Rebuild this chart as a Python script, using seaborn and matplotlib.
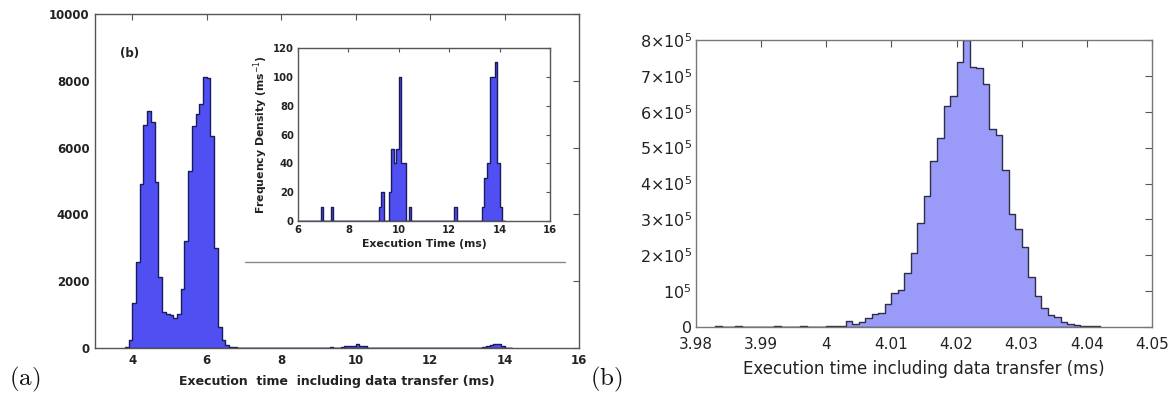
import numpy as np
import pandas as pd
import seaborn as sns
import matplotlib.pyplot as plt
from matplotlib.lines import Line2D

# Panel (a): main histogram, counts per 0.1 ms bin (bin centres)
main_centres = [3.85, 3.95, 4.05, 4.15, 4.25, 4.35, 4.45, 4.55, 4.65, 4.75,
                4.85, 4.95, 5.05, 5.15, 5.25, 5.35, 5.45, 5.55, 5.65, 5.75,
                5.85, 5.95, 6.05, 6.15, 6.25, 6.35, 6.45, 6.55, 6.65, 6.75,
                6.85, 6.95, 7.05, 7.35, 9.25, 9.35, 9.65, 9.75, 9.85, 9.95,
                10.05, 10.15, 10.25, 10.45, 12.25, 13.35, 13.45, 13.55, 13.65,
                13.75, 13.85, 13.95, 14.05]
main_counts = [20, 230, 1360, 2590, 4900, 6680, 7090, 6760, 4970, 2130,
               1080, 1030, 980, 910, 1010, 1780, 3190, 5290, 6640, 7020,
               7300, 8100, 8070, 6340, 3000, 630, 230, 80, 40, 20,
               10, 8, 5, 5, 10, 20, 30, 60, 50, 70,
               110, 60, 50, 10, 10, 15, 40, 60, 100,
               110, 120, 50, 15]

# Panel (a) inset: frequency density (ms^-1)
inset_centres = [6.95, 7.35, 9.25, 9.35, 9.65, 9.75, 9.85, 9.95, 10.05, 10.15,
                 10.25, 10.45, 12.25, 13.35, 13.45, 13.55, 13.65, 13.75, 13.85,
                 13.95, 14.05]
inset_density = [10, 10, 10, 20, 20, 50, 40, 50, 100, 40,
                 40, 10, 10, 10, 30, 40, 100, 100, 110,
                 40, 10]

# Panel (b): counts per 1 us bin, first bin starts at 3.983 ms
b_start = 3.983
b_counts = [1500, 800, 600, 1500, 700, 600, 1200, 800, 600, 1800,
            1000, 700, 600, 2500, 1200, 600, 1000, 2000, 1500, 3000,
            17000, 7500, 13000, 26000, 35000, 38000, 63000, 96000, 102000, 151000,
            205000, 290000, 365000, 462000, 527000, 615000, 644000, 739000, 800000, 726000,
            723000, 678000, 553000, 536000, 438000, 316000, 272000, 224000, 140000, 87000,
            54000, 34600, 28000, 14000, 7500, 5000, 3000, 2000, 1500]

sns.set_style("white")
plt.rcParams['mathtext.fontset'] = 'dejavusans'

fig = plt.figure(figsize=(11.75, 3.97), dpi=100)

main_df = pd.DataFrame({"t": main_centres, "n": main_counts})
inset_df = pd.DataFrame({"t": inset_centres, "n": inset_density})
b_edges = np.round(b_start + 0.001 * np.arange(len(b_counts) + 1), 4)
b_df = pd.DataFrame({"t": b_edges[:-1] + 0.0005, "n": b_counts})

# ---- left panel ----
ax1 = fig.add_axes([0.0809, 0.1234, 0.4119, 0.8413])
edges = list(np.round(np.arange(3.8, 14.25, 0.1), 2))
sns.histplot(data=main_df, x="t", weights="n", bins=edges, element="step",
             fill=True, color="#4f4ff2", edgecolor="#1c1c5c", alpha=1,
             linewidth=1, ax=ax1)
ax1.set_xlim(3, 16)
ax1.set_ylim(0, 10000)
ax1.set_xticks([4, 6, 8, 10, 12, 14, 16])
ax1.set_yticks([0, 2000, 4000, 6000, 8000, 10000])
ax1.set_ylabel("")
ax1.set_xlabel("Execution  time  including data transfer (ms)",
               fontsize=9, fontweight="bold", color="#222222", labelpad=6)
ax1.tick_params(direction="in", top=True, right=True, length=4, width=0.8,
                labelsize=8.5, color="#555555", labelcolor="#222222", pad=4)
for lab in ax1.get_xticklabels() + ax1.get_yticklabels():
    lab.set_fontweight("bold")
for s in ax1.spines.values():
    s.set_color("#555555")
    s.set_linewidth(1)
ax1.text(3.68, 8700, "(b)", fontsize=8.5, fontweight="bold", color="#222222")

# ---- inset ----
ax_in = fig.add_axes([0.2536, 0.4433, 0.2145, 0.4358])
sns.histplot(data=inset_df, x="t", weights="n", bins=edges, element="step",
             fill=True, color="#4f4ff2", edgecolor="#1c1c5c", alpha=1,
             linewidth=1, ax=ax_in)
ax_in.set_xlim(6, 16)
ax_in.set_ylim(0, 120)
ax_in.set_xticks([6, 8, 10, 12, 14, 16])
ax_in.set_yticks([0, 20, 40, 60, 80, 100, 120])
ax_in.set_xlabel("Execution Time (ms)", fontsize=7.8, fontweight="bold",
                 color="#222222", labelpad=3)
ax_in.set_ylabel("Frequency Density (ms$^{-1}$)", fontsize=7.8,
                 fontweight="bold", color="#222222", labelpad=2)
ax_in.tick_params(direction="in", top=True, right=True, length=3, width=0.8,
                  labelsize=7.2, color="#555555", labelcolor="#222222", pad=3)
for lab in ax_in.get_xticklabels() + ax_in.get_yticklabels():
    lab.set_fontweight("bold")
for s in ax_in.spines.values():
    s.set_color("#555555")
    s.set_linewidth(1)

fig.add_artist(Line2D([0.2085, 0.4809], [0.340, 0.340], transform=fig.transFigure,
                      color="#888888", linewidth=1))

# ---- right panel ----
ax2 = fig.add_axes([0.5923, 0.1763, 0.3881, 0.7229])
sns.histplot(data=b_df, x="t", weights="n", bins=list(b_edges), element="step",
             fill=True, color="#9a9af8", edgecolor="#2e2e48", alpha=1,
             linewidth=1, ax=ax2)
ax2.set_xlim(3.98, 4.05)
ax2.set_ylim(0, 800000)
ax2.set_xticks([3.98, 3.99, 4.0, 4.01, 4.02, 4.03, 4.04, 4.05])
ax2.set_xticklabels(["3.98", "3.99", "4", "4.01", "4.02", "4.03", "4.04", "4.05"])
ax2.set_yticks(np.arange(0, 800001, 100000))
ax2.set_yticklabels(["0", r"10$^{5}$"] +
                    [r"%d$\times$10$^{5}$" % k for k in range(2, 9)])
ax2.set_ylabel("")
ax2.set_xlabel("Execution time including data transfer (ms)", fontsize=12,
               color="#222222", labelpad=6)
ax2.tick_params(direction="in", top=True, right=True, length=5, width=0.8,
                labelsize=11.5, color="#555555", labelcolor="#222222", pad=3)
ax2.tick_params(axis="x", pad=7, labelsize=11)
for s in ax2.spines.values():
    s.set_color("#777777")
    s.set_linewidth(1)

# panel labels
fig.text(0.008, 0.03, r"$\mathrm{(a)}$", fontsize=18, color="#111111",
         math_fontfamily="cm")
fig.text(0.502, 0.03, r"$\mathrm{(b)}$", fontsize=18, color="#111111",
         math_fontfamily="cm")

fig.savefig("out.png", dpi=100)
